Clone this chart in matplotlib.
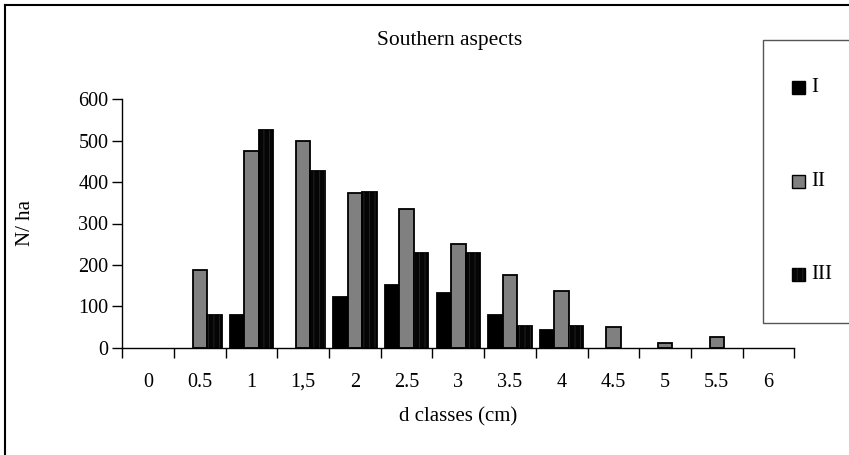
import numpy as np
import matplotlib
matplotlib.use("Agg")
import matplotlib.pyplot as plt
from matplotlib.patches import Rectangle
from matplotlib.lines import Line2D

plt.rcParams['font.family'] = ['Liberation Serif', 'DejaVu Serif']
plt.rcParams['hatch.linewidth'] = 0.6

# d classes (cm)
classes = ["0", "0.5", "1", "1,5", "2", "2.5", "3", "3.5", "4", "4.5", "5", "5.5", "6"]
series_names = ["I", "II", "III"]
vals_I = [0, 0, 80, 0, 123, 151, 131, 80, 43, 0, 0, 0, 0]
vals_II = [0, 188, 475, 500, 373, 336, 251, 176, 138, 50, 12, 25, 0]
vals_III = [0, 78, 526, 428, 377, 229, 229, 53, 53, 0, 0, 0, 0]

W, H = 849, 455
fig = plt.figure(figsize=(W / 100, H / 100), dpi=100)
ax = fig.add_axes([122.3 / W, (H - 347.7) / H, 672 / W, 248.4 / H])

x = np.arange(len(classes))
bw = 0.28


def draw(vals, offset, fc, hatch=None):
    v = np.array(vals)
    m = v > 0  # empty classes get no bar (avoids edge lines on the axis)
    ax.bar(x[m] + offset, v[m], bw, color=fc, edgecolor="black", linewidth=1.3)
    if hatch:
        ax.bar(x[m] + offset, v[m], bw, color="none", edgecolor="#262626", hatch=hatch, linewidth=0)


draw(vals_I, -bw, "black")
draw(vals_II, 0, "#808080")
draw(vals_III, bw, "#050505", hatch="|||")

ax.set_xlim(-0.5, len(classes) - 0.5)
ax.set_ylim(0, 600)
ax.set_yticks(range(0, 601, 100))
ax.set_xticks(x)
ax.set_xticklabels(classes)
ax.set_xticks(np.arange(len(classes) + 1) - 0.5, minor=True)
ax.tick_params(axis="x", which="major", length=0, pad=18, labelsize=14.5)
ax.tick_params(axis="x", which="minor", length=7, width=1, direction="out")
ax.tick_params(axis="y", length=7, width=1, direction="out", pad=3, labelsize=14.5)
for s in ["top", "right"]:
    ax.spines[s].set_visible(False)
ax.spines["left"].set_linewidth(1)
ax.spines["bottom"].set_linewidth(1)

fig.text(449.5 / W, 1 - 40 / H, "Southern aspects", ha="center", va="center", fontsize=15.5)
fig.text(458 / W, 1 - 417 / H, "d classes (cm)", ha="center", va="center", fontsize=15)
fig.text(26 / W, 1 - 223 / H, "N/ ha", ha="center", va="center", rotation=90, fontsize=15)

# outer frame (cropped at right and bottom)
fig.add_artist(Line2D([5 / W, 1.0], [1 - 5 / H, 1 - 5 / H], color="black", lw=1.5, transform=fig.transFigure))
fig.add_artist(Line2D([5 / W, 5 / W], [0, 1 - 5 / H], color="black", lw=1.5, transform=fig.transFigure))

# legend box
fig.add_artist(Rectangle((762.7 / W, 1 - 323.3 / H), 0.2, (323.3 - 40) / H,
                         transform=fig.transFigure, facecolor="white", edgecolor="#555555", lw=1))
leg_y = [87.7, 181.7, 274.3]
leg_face = ["black", "#808080", "#050505"]
for name, yy, fc in zip(series_names, leg_y, leg_face):
    fig.add_artist(Rectangle((792 / W, 1 - (yy + 6.5) / H), 13 / W, 13 / H,
                             transform=fig.transFigure, facecolor=fc, edgecolor="black", lw=1))
    if name == "III":
        fig.add_artist(Rectangle((792 / W, 1 - (yy + 6.5) / H), 13 / W, 13 / H,
                                 transform=fig.transFigure, facecolor="none",
                                 edgecolor="#262626", hatch="|||", lw=0))
    fig.text(811 / W, 1 - yy / H, name, ha="left", va="center", fontsize=15)

fig.savefig("out.png", dpi=100)
